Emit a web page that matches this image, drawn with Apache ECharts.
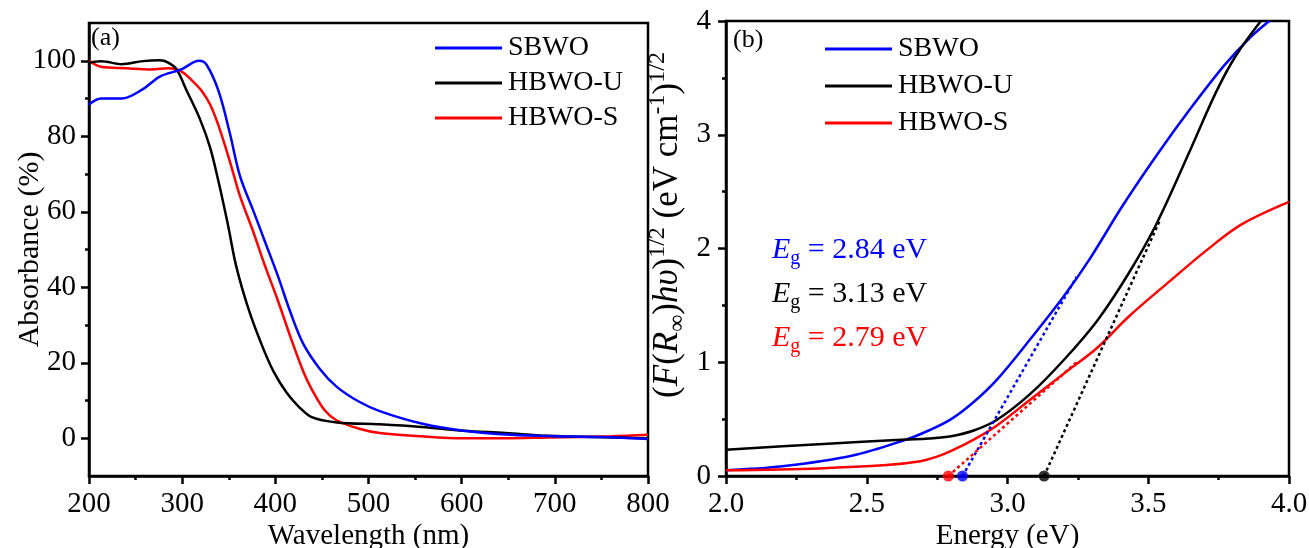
<!DOCTYPE html>
<html>
<head>
<meta charset="utf-8">
<script src="https://cdn.jsdelivr.net/npm/echarts@6/dist/echarts.min.js"></script>
<style>
html,body{margin:0;padding:0;background:#fff;}
#chart{width:1309px;height:548px;}
</style>
</head>
<body>
<div id="chart"></div>
<script>
// ---------- Data ----------
const seriesNames = ['SBWO', 'HBWO-U', 'HBWO-S'];
const seriesColors = ['#0000ff', '#000000', '#ff0000'];

// (a) Absorbance vs wavelength
const wlSBWO = [200, 213, 235, 258, 276, 299, 318, 326, 339, 351, 362, 376, 389, 403, 416, 430, 448, 466, 489, 512, 557, 602, 647, 692, 750, 800];
const absSBWO = [88.4, 90, 90, 92.5, 95.8, 97.7, 100, 99, 92, 81, 69.5, 60.5, 52, 42.8, 33.5, 25, 18.3, 13.6, 9.8, 7.2, 3.9, 2.0, 1.0, 0.6, 0.3, -0.2];
const wlHU = [200, 213, 235, 258, 276, 285, 294, 305, 319, 330, 339, 349, 358, 371, 385, 398, 412, 425, 439, 466, 512, 557, 602, 647, 692, 800];
const absHU = [99.5, 99.9, 99.1, 99.9, 100.1, 99.5, 97.7, 92, 84.6, 77, 68, 56.7, 45.6, 34.4, 25, 17.7, 12.1, 8.4, 5.6, 4.2, 3.7, 3.0, 2.0, 1.4, 0.65, 0];
const wlHS = [200, 213, 240, 267, 285, 299, 312, 321, 330, 339, 351, 362, 376, 389, 403, 416, 430, 439, 453, 466, 489, 512, 557, 602, 647, 692, 760, 800];
const absHS = [100, 98.4, 98, 97.7, 98, 97.2, 94.4, 92, 88.4, 82.8, 73.5, 64.2, 54.9, 45.6, 36.3, 27, 17.7, 13, 7.4, 4.7, 2.6, 1.4, 0.5, 0, 0, 0.2, 0.5, 0.9];

// (b) Tauc plot
const enSBWO = [2.0, 2.2, 2.45, 2.64, 2.72, 2.8, 2.88, 2.96, 3.08, 3.2, 3.29, 3.41, 3.53, 3.65, 3.77, 3.86, 3.93];
const kmSBWO = [0.05, 0.085, 0.18, 0.32, 0.40, 0.50, 0.65, 0.84, 1.2, 1.58, 1.9, 2.38, 2.82, 3.23, 3.61, 3.85, 4.0];
const enHU = [2.0, 2.33, 2.64, 2.72, 2.8, 2.88, 2.96, 3.08, 3.2, 3.32, 3.43, 3.53, 3.65, 3.74, 3.81, 3.9];
const kmHU = [0.23, 0.28, 0.32, 0.33, 0.35, 0.40, 0.49, 0.72, 1.02, 1.37, 1.78, 2.22, 2.87, 3.37, 3.69, 4.0];
const enHS = [2.0, 2.33, 2.57, 2.69, 2.75, 2.8, 2.88, 2.96, 3.08, 3.2, 3.32, 3.43, 3.58, 3.71, 3.83, 4.0];
const kmHS = [0.05, 0.067, 0.096, 0.13, 0.17, 0.22, 0.32, 0.44, 0.67, 0.90, 1.13, 1.40, 1.72, 1.99, 2.21, 2.41];

// Band-gap extrapolations
const egValues = [2.84, 3.13, 2.79];
const tangentEndE = [3.245, 3.54, 3.25];
const tangentEndY = [1.75, 2.24, 1.01];
const egLabels = ['2.84 eV', '3.13 eV', '2.79 eV'];

// Tick labels
const absTicks = [0, 20, 40, 60, 80, 100];
const absMinorTicks = [10, 30, 50, 70, 90];

// ---------- Chart ----------
const FONT = 'Liberation Serif';
const zip = (a, b) => a.map((v, i) => [v, b[i]]);
const axisLineStyle = {show: true, onZero: false, lineStyle: {color: '#000', width: 2.5}};
const tickStyle = {color: '#000', width: 2.5};
const labelStyle = {fontFamily: FONT, fontSize: 29, color: '#000'};
const nameStyle = {fontFamily: FONT, fontSize: 29, color: '#000'};

const leftData = [zip(wlSBWO, absSBWO), zip(wlHU, absHU), zip(wlHS, absHS)];
const rightData = [zip(enSBWO, kmSBWO), zip(enHU, kmHU), zip(enHS, kmHS)];

const series = [];
seriesNames.forEach((n, i) => {
  series.push({
    name: n, type: 'line', xAxisIndex: 0, yAxisIndex: 0,
    data: leftData[i], smooth: 0.35, showSymbol: false, symbol: 'none',
    lineStyle: {color: seriesColors[i], width: 2.5}, itemStyle: {color: seriesColors[i]}, z: 5 - i
  });
});
seriesNames.forEach((n, i) => {
  series.push({
    name: n, type: 'line', xAxisIndex: 1, yAxisIndex: 2,
    data: rightData[i], smooth: 0.35, showSymbol: false, symbol: 'none',
    lineStyle: {color: seriesColors[i], width: 2.5}, itemStyle: {color: seriesColors[i]}, z: 3
  });
});
seriesNames.forEach((n, i) => {
  series.push({
    name: n + ' fit', type: 'line', xAxisIndex: 1, yAxisIndex: 2,
    data: [[egValues[i], 0], [tangentEndE[i], tangentEndY[i]]],
    showSymbol: false, symbol: 'none',
    lineStyle: {color: seriesColors[i], width: 2.5, type: [3, 3]}, z: 4
  });
});
series.push({
  name: 'Eg', type: 'scatter', xAxisIndex: 1, yAxisIndex: 2, clip: false,
  symbolSize: 11, z: 6,
  data: egValues.map((v, i) => ({value: [v, 0], itemStyle: {color: seriesColors[i]}}))
});

const legendBase = {
  data: seriesNames, orient: 'vertical', icon: 'rect', itemWidth: 67, itemHeight: 3,
  padding: 0, textStyle: {fontFamily: FONT, fontSize: 28, color: '#000', padding: [0, 0, 0, 1]}
};

const graphics = [
  {type: 'text', left: 91, top: 25, style: {text: '(a)', fontFamily: FONT, fontSize: 26, fill: '#000'}},
  {type: 'text', left: 733, top: 27, style: {text: '(b)', fontFamily: FONT, fontSize: 26, fill: '#000'}},
  {
    type: 'text', x: 668, y: 225, rotation: Math.PI / 2,
    style: {
      text: '{p|(}{i|F}{p|(}{i|R}{sub|∞}{p|)}{i|hυ}{p|)}{sup|1/2}{p| (eV cm}{sup|-1}{p|)}{sup|1/2}',
      align: 'center', verticalAlign: 'middle', fill: '#000',
      rich: {
        p: {fontFamily: FONT, fontSize: 35, lineHeight: 44, fill: '#000', verticalAlign: 'middle'},
        i: {fontFamily: FONT, fontSize: 35, fontStyle: 'italic', lineHeight: 44, fill: '#000', verticalAlign: 'middle'},
        sup: {fontFamily: FONT, fontSize: 24, lineHeight: 22, fill: '#000', verticalAlign: 'top'},
        sub: {fontFamily: FONT, fontSize: 24, lineHeight: 22, fill: '#000', verticalAlign: 'bottom'}
      }
    }
  }
];
egLabels.forEach((t, i) => {
  graphics.push({
    type: 'text', left: 772, top: 235 + i * 44,
    style: {
      text: '{E|E}{g|g}{t| = ' + t + '}', fill: seriesColors[i],
      rich: {
        E: {fontFamily: FONT, fontSize: 30, fontStyle: 'italic', lineHeight: 38, fill: seriesColors[i], verticalAlign: 'middle'},
        g: {fontFamily: FONT, fontSize: 20, lineHeight: 19, fill: seriesColors[i], verticalAlign: 'bottom'},
        t: {fontFamily: FONT, fontSize: 30, lineHeight: 38, fill: seriesColors[i], verticalAlign: 'middle'}
      }
    }
  });
});

const gridBase = {show: true, borderColor: '#000', borderWidth: 2.5, backgroundColor: 'transparent', containLabel: false, outerBoundsMode: 'none'};
const option = {
  animation: false,
  backgroundColor: '#ffffff',
  grid: [
    Object.assign({left: 89, right: 661, top: 23, bottom: 72}, gridBase),
    Object.assign({left: 726, right: 20, top: 21, bottom: 72}, gridBase)
  ],
  legend: [
    Object.assign({}, legendBase, {left: 435, top: 34, itemGap: 7}),
    Object.assign({}, legendBase, {left: 825, top: 35, itemGap: 9})
  ],
  xAxis: [
    {
      gridIndex: 0, type: 'value', min: 200, max: 800, interval: 100,
      axisLine: axisLineStyle,
      axisTick: {show: true, length: 8, lineStyle: tickStyle},
      minorTick: {show: true, splitNumber: 2, length: 4, lineStyle: tickStyle},
      splitLine: {show: false}, minorSplitLine: {show: false},
      axisLabel: Object.assign({margin: 14}, labelStyle),
      name: 'Wavelength (nm)', nameLocation: 'middle', nameGap: 46, nameMoveOverlap: false, nameTextStyle: nameStyle
    },
    {
      gridIndex: 1, type: 'value', min: 2, max: 4, interval: 0.5,
      axisLine: axisLineStyle,
      axisTick: {show: true, length: 8, lineStyle: tickStyle},
      minorTick: {show: true, splitNumber: 2, length: 4, lineStyle: tickStyle},
      splitLine: {show: false}, minorSplitLine: {show: false},
      axisLabel: Object.assign({margin: 14, formatter: v => v.toFixed(1)}, labelStyle),
      name: 'Energy (eV)', nameLocation: 'middle', nameGap: 46, nameMoveOverlap: false, nameTextStyle: nameStyle
    }
  ],
  yAxis: [
    {
      gridIndex: 0, type: 'value', min: -10, max: 110, interval: 10, position: 'left',
      axisLine: axisLineStyle,
      axisTick: {show: true, length: 8, lineStyle: tickStyle, customValues: absTicks},
      splitLine: {show: false},
      axisLabel: Object.assign({margin: 13, customValues: absTicks}, labelStyle),
      name: 'Absorbance (%)', nameLocation: 'middle', nameGap: 44, nameMoveOverlap: false,
      nameTextStyle: {fontFamily: FONT, fontSize: 30, color: '#000'}
    },
    {
      gridIndex: 0, type: 'value', min: -10, max: 110, interval: 10, position: 'left', offset: 0,
      axisLine: {show: false, onZero: false},
      axisTick: {show: true, length: 4, lineStyle: tickStyle, customValues: absMinorTicks},
      splitLine: {show: false},
      axisLabel: {show: false}
    },
    {
      gridIndex: 1, type: 'value', min: 0, max: 4, interval: 1,
      axisLine: axisLineStyle,
      axisTick: {show: true, length: 8, lineStyle: tickStyle},
      minorTick: {show: true, splitNumber: 2, length: 4, lineStyle: tickStyle},
      splitLine: {show: false}, minorSplitLine: {show: false},
      axisLabel: Object.assign({margin: 15}, labelStyle)
    }
  ],
  graphic: graphics,
  series: series
};

const chart = echarts.init(document.getElementById('chart'), null, {renderer: 'canvas'});
chart.setOption(option);
</script>
</body>
</html>
